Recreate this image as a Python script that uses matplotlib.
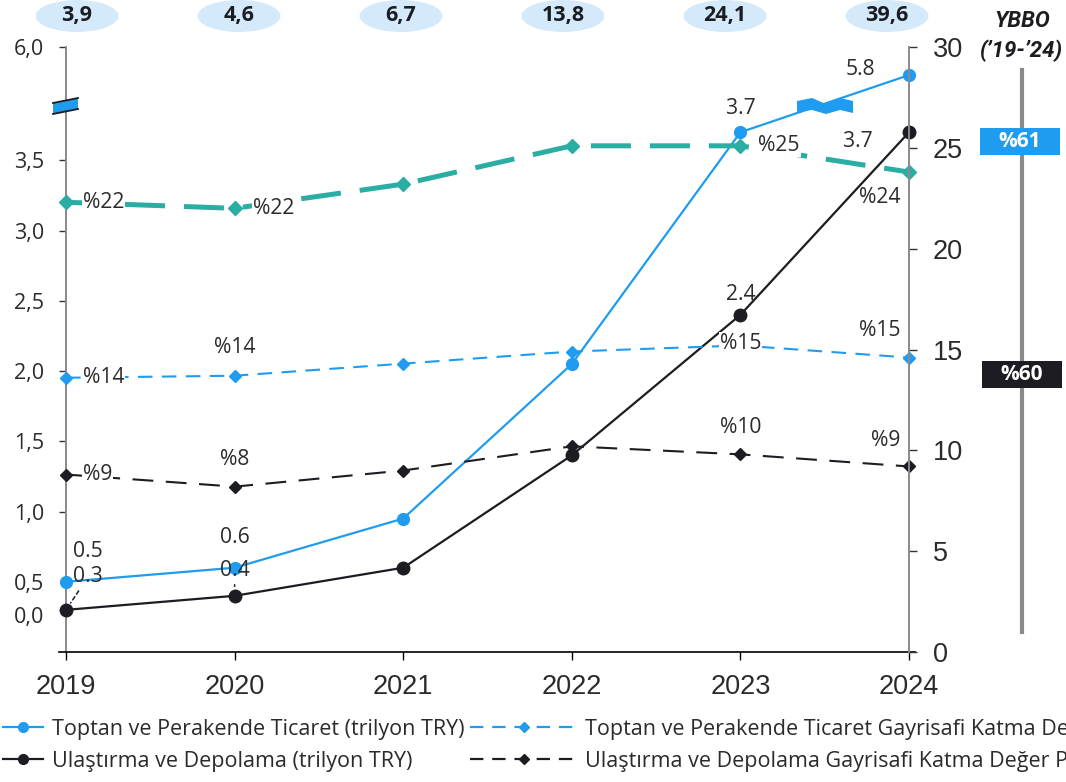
import numpy as np
import matplotlib
matplotlib.use("Agg")
import matplotlib.pyplot as plt
from matplotlib.patches import Ellipse, Polygon, Rectangle
from matplotlib.lines import Line2D

# ---- data -------------------------------------------------------------
years = [2019, 2020, 2021, 2022, 2023, 2024]
trade_value = [0.5, 0.6, 0.95, 2.05, 3.7, 5.8]        # trilyon TRY
transport_value = [0.3, 0.4, 0.6, 1.4, 2.4, 3.7]      # trilyon TRY
trade_share = [13.6, 13.7, 14.3, 14.9, 15.2, 14.6]    # %
transport_share = [8.8, 8.2, 9.0, 10.2, 9.8, 9.2]     # %
combined_share = [22.3, 22.0, 23.2, 25.1, 25.1, 23.8] # %
top_totals = [3.9, 4.6, 6.7, 13.8, 24.1, 39.6]
cagr_trade = 61
cagr_transport = 60

left_ticks = [0.26, 0.5, 1.0, 1.5, 2.0, 2.5, 3.0, 3.5, 6.0]
left_tick_labels = ["0,0", "0,5", "1,0", "1,5", "2,0", "2,5", "3,0", "3,5", "6,0"]
right_ticks = [0, 5, 10, 15, 20, 25, 30]

legend_labels = [
    "Toptan ve Perakende Ticaret (trilyon TRY)",
    "Ulaştırma ve Depolama (trilyon TRY)",
    "Toptan ve Perakende Ticaret Gayrisafi Katma Değer Payı (%)",
    "Ulaştırma ve Depolama Gayrisafi Katma Değer Payı (%)",
]

# ---- style ------------------------------------------------------------
BLUE = "#1f9cf0"
BLACK = "#1c1c22"
TEAL = "#2aada2"
GREY = "#8a8a8e"
BUBBLE = "#d4eafb"
TEXT = "#2b2b2b"
SANS = ["Open Sans", "DejaVu Sans"]
NUM = ["Liberation Sans", "DejaVu Sans"]
HEAD = ["Roboto", "Lato", "DejaVu Sans"]

W, H = 1066, 782
fig = plt.figure(figsize=(W / 100, H / 100), dpi=100)


def fpx(x, y):
    """pixel position (from top-left) -> figure fraction"""
    return x / W, 1 - y / H


# axes box: x-axis line runs a little past the first/last year
ax = fig.add_axes([59.3 / W, 1 - 652 / H, (914.9 - 59.3) / W, 605 / H])
ax.set_xlim(2018.96, 2024.035)

# broken left scale: values between LO and HI are squeezed to almost nothing
LO, HI, K = 3.9, 5.6, 0.004
GAP = (HI - LO) * (1 - K)


def fwd(v):
    v = np.asarray(v, dtype=float)
    return np.where(v <= LO, v, np.where(v >= HI, v - GAP, LO + (v - LO) * K))


def inv(u):
    u = np.asarray(u, dtype=float)
    top = LO + (HI - LO) * K
    return np.where(u <= LO, u, np.where(u >= top, u + GAP, LO + (u - LO) / K))


ax.set_yscale("function", functions=(fwd, inv))
ax.set_ylim(0, 6.0)

ax2 = ax.twinx()
ax2.set_ylim(0, 30)

# spines
for s in ["top", "right"]:
    ax.spines[s].set_visible(False)
for s in ["top", "left", "bottom"]:
    ax2.spines[s].set_visible(False)
ax.spines["left"].set_position(("data", 2019))
ax.spines["left"].set_color(GREY)
ax.spines["left"].set_linewidth(1.4)
ax.spines["bottom"].set_color("black")
ax.spines["bottom"].set_linewidth(1.2)
ax2.spines["right"].set_position(("data", 2024))
ax2.spines["right"].set_color(GREY)
ax2.spines["right"].set_linewidth(1.4)

# ticks
ax.set_xticks(years)
ax.set_xticklabels([str(y) for y in years], fontfamily=NUM, fontsize=19.5,
                   color=TEXT)
ax.tick_params(axis="x", length=5.5, width=1, color="black", pad=10)

ax.set_yticks(left_ticks)
ax.set_yticklabels(left_tick_labels, fontfamily=SANS, fontsize=15.5,
                   color=TEXT)
ax.tick_params(axis="y", length=5, width=1, color="#333333", pad=11)
ax.yaxis.get_major_ticks()[0].tick1line.set_visible(False)
ax.yaxis.get_major_ticks()[1].tick1line.set_visible(False)
ax.yaxis.set_minor_locator(matplotlib.ticker.NullLocator())

ax2.set_yticks(right_ticks)
ax2.set_yticklabels([str(t) for t in right_ticks], fontfamily=NUM,
                    fontsize=19.5, color=TEXT)
ax2.tick_params(axis="y", length=6, width=1, color="#333333", pad=11)

# ---- series -----------------------------------------------------------
ax.plot(years, transport_value, color=BLACK, lw=1.6, marker="o", ms=9,
        zorder=4, clip_on=False)
ax.plot(years, trade_value, color=BLUE, lw=1.6, marker="o", ms=8.5,
        zorder=5, clip_on=False)

ax2.plot(years, combined_share, color=TEAL, lw=3.6, dashes=(8, 3.8),
         marker="D", ms=7, zorder=2, clip_on=False)
ax2.plot(years, trade_share, color=BLUE, lw=1.5, dashes=(7, 4.5),
         marker="D", ms=6.5, zorder=2, clip_on=False)
ax2.plot(years, transport_share, color=BLACK, lw=1.5, dashes=(10, 6),
         marker="D", ms=6.5, zorder=2, clip_on=False)

# ---- value labels -----------------------------------------------------
lab_kw = dict(fontfamily=SANS, fontsize=15.2, color=TEXT,
              textcoords="offset points", va="center", zorder=6)


def label_value(axis, values, idx, dx, dy, fmt, ha="center", bg=False,
                leader=None):
    kw = dict(lab_kw)
    if bg:
        kw["bbox"] = dict(boxstyle="square,pad=0.05", fc="white", ec="none")
    if leader is not None:
        kw["arrowprops"] = dict(arrowstyle="-", color=BLACK, lw=1.1,
                                linestyle=leader, shrinkA=1, shrinkB=6)
    axis.annotate(fmt(values[idx]), xy=(years[idx], values[idx]),
                  xytext=(dx, dy), ha=ha, **kw)


tl = lambda v: f"{v:.1f}"
pc = lambda v: f"%{v:.0f}"

label_value(ax, trade_value, 0, 16, 22, tl)
label_value(ax, trade_value, 1, 0, 22, tl)
label_value(ax, trade_value, 4, 0, 17, tl)
label_value(ax, trade_value, 5, -35, 4, tl)
label_value(ax, transport_value, 0, 16, 24, tl, leader=(0, (2.5, 2)))
label_value(ax, transport_value, 1, 0, 18.5, tl, leader=(0, (1, 1.5)))
label_value(ax, transport_value, 4, 0, 15, tl)
label_value(ax, transport_value, 5, -37, -7, tl)

label_value(ax2, combined_share, 0, 12, 0, pc, ha="left", bg=True)
label_value(ax2, combined_share, 1, 13, 0, pc, ha="left", bg=True)
label_value(ax2, combined_share, 4, 13, 0, pc, ha="left", bg=True)
label_value(ax2, combined_share, 5, -21, -18, pc)
label_value(ax2, trade_share, 0, 12, 0, pc, ha="left", bg=True)
label_value(ax2, trade_share, 1, 0, 20, pc)
label_value(ax2, trade_share, 4, 0, 1.5, pc, bg=True)
label_value(ax2, trade_share, 5, -21, 19.5, pc)
label_value(ax2, transport_share, 0, 12, 0, pc, ha="left", bg=True)
label_value(ax2, transport_share, 1, 0, 19.5, pc)
label_value(ax2, transport_share, 4, 0, 19.5, pc)
label_value(ax2, transport_share, 5, -17, 19, pc)

# ---- axis-break symbols -------------------------------------------------
para = [fpx(53, 103), fpx(78, 98), fpx(78, 109), fpx(53, 114)]
fig.patches.append(Polygon(para, closed=True, fc=BLUE, ec="none",
                           transform=fig.transFigure, zorder=10))
for (a, b) in [((53, 103), (78, 98)), ((53, 114), (78, 109))]:
    fig.lines.append(Line2D([fpx(*a)[0], fpx(*b)[0]], [fpx(*a)[1], fpx(*b)[1]],
                            color=BLACK, lw=1.3, transform=fig.transFigure,
                            zorder=11))

zig_top = [(797, 101), (812, 98), (826, 104), (840, 98), (853, 101)]
zig_bot = [(853, 113), (840, 110), (826, 114), (812, 110), (797, 112)]
fig.patches.append(Polygon([fpx(*p) for p in zig_top + zig_bot], closed=True,
                           fc=BLUE, ec="none", transform=fig.transFigure,
                           zorder=10))

# ---- top bubbles --------------------------------------------------------
bubble_x = np.linspace(77, 887, len(top_totals))
for bx, val in zip(bubble_x, top_totals):
    cx, cy = fpx(bx, 16)
    fig.patches.append(Ellipse((cx, cy), 83 / W, 32 / H, fc=BUBBLE, ec="none",
                               transform=fig.transFigure))
    fig.text(cx, cy, f"{val:.1f}".replace(".", ","), ha="center",
             va="center", fontfamily=SANS, fontsize=15.5, fontweight="bold",
             color=BLACK)

# ---- CAGR column --------------------------------------------------------
x0, y0 = fpx(1022, 70)
x1, y1 = fpx(1022, 632)
fig.lines.append(Line2D([x0, x1], [y0, y1], color=GREY, lw=3,
                        transform=fig.transFigure, zorder=1))
fig.text(*fpx(1022, 21), "YBBO", ha="center", va="center",
         fontfamily=HEAD, fontsize=16, fontweight="bold",
         fontstyle="italic", color=BLACK)
fig.text(*fpx(1022, 51), "(’19-’24)", ha="center", va="center",
         fontfamily=HEAD, fontsize=16, fontweight="bold",
         fontstyle="italic", color=BLACK)

for (left, top, colr, val) in [(980, 128, BLUE, cagr_trade),
                               (982, 361, BLACK, cagr_transport)]:
    bx, by = fpx(left, top + 27)
    fig.patches.append(Rectangle((bx, by), 80 / W, 27 / H, fc=colr, ec="none",
                                 transform=fig.transFigure, zorder=5))
    fig.text(*fpx(left + 40, top + 13.5), f"%{val}", ha="center",
             va="center", fontfamily=SANS, fontsize=15, fontweight="bold",
             color="white", zorder=6)

# ---- legend -------------------------------------------------------------
h1 = Line2D([], [], color=BLUE, lw=1.6, marker="o", ms=7)
h2 = Line2D([], [], color=BLACK, lw=1.6, marker="o", ms=7)
h3 = Line2D([], [], color=BLUE, lw=1.6, dashes=(6, 4), marker="D", ms=5.5)
h4 = Line2D([], [], color=BLACK, lw=1.6, dashes=(6, 4), marker="D", ms=5.5)
leg_prop = dict(family=SANS, size=15.5)
leg1 = fig.legend([h1, h2], legend_labels[:2], loc="upper left",
                  bbox_to_anchor=fpx(3, 719), frameon=False, prop=leg_prop,
                  handlelength=1.86, handletextpad=0.42, labelspacing=0.49,
                  borderpad=0, borderaxespad=0, labelcolor=TEXT)
leg2 = fig.legend([h3, h4], legend_labels[2:], loc="upper left",
                  bbox_to_anchor=fpx(470, 719), frameon=False, prop=leg_prop,
                  handlelength=4.98, handletextpad=0.37, labelspacing=0.49,
                  borderpad=0, borderaxespad=0, labelcolor=TEXT)

fig.savefig("out.png", dpi=100)
